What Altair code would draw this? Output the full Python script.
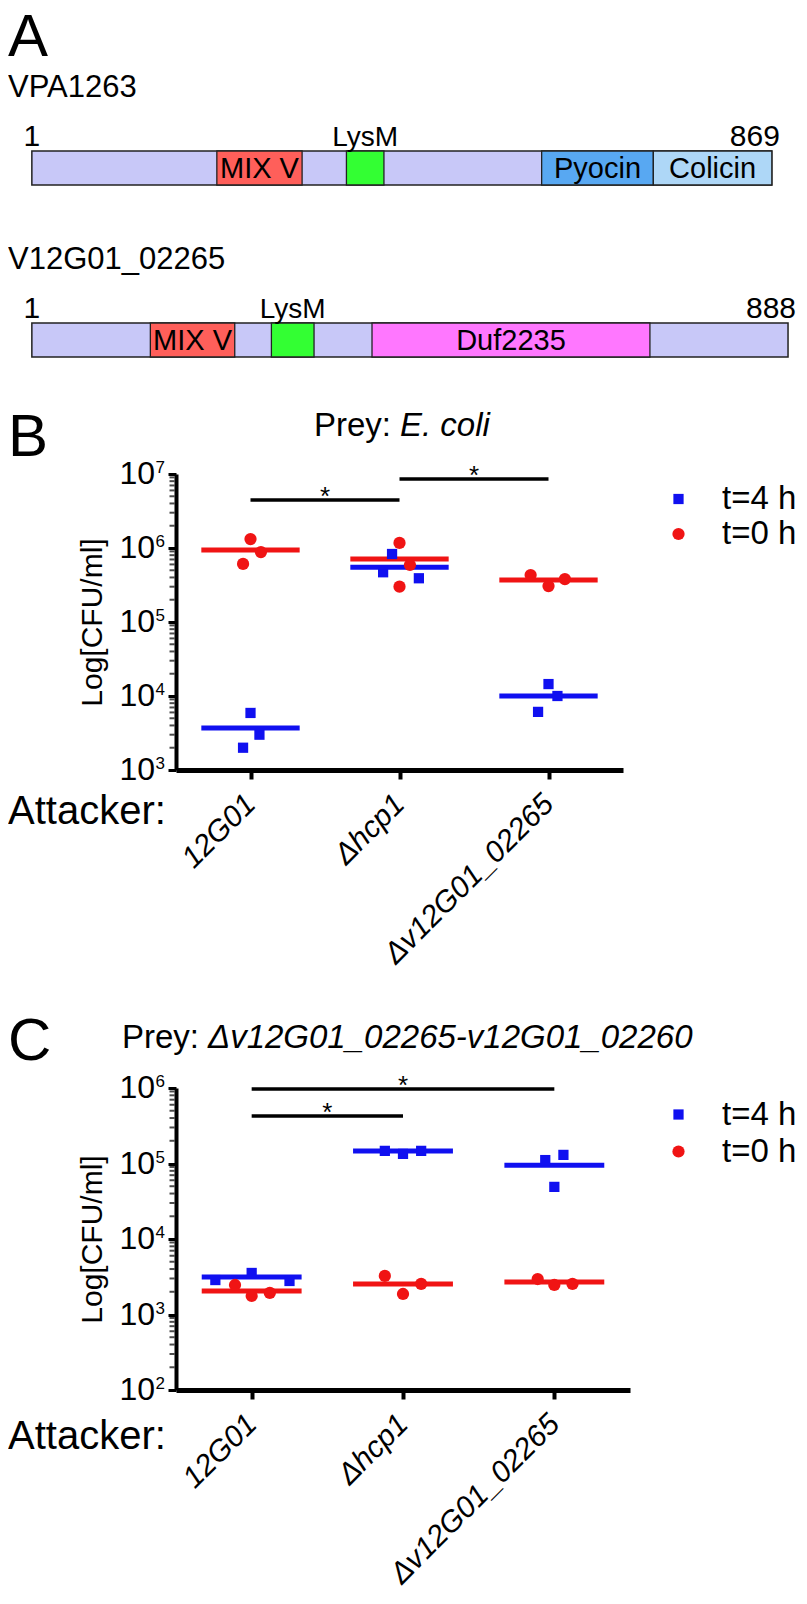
import json
import altair as alt
import pandas as pd

FONT = "Liberation Sans"

# ---------------- Panel A: domain architecture ----------------
proteins = ["VPA1263", "V12G01_02265"]
protein_len = [869, 888]
dom_protein = ["VPA1263", "VPA1263", "VPA1263", "VPA1263",
               "V12G01_02265", "V12G01_02265", "V12G01_02265"]
dom_name = ["MIX V", "LysM", "Pyocin", "Colicin", "MIX V", "LysM", "Duf2235"]
dom_start = [218, 370, 599, 730, 140, 282, 400]
dom_end = [318, 414, 730, 869, 239, 332, 726]
dom_palette_names = ["MIX V", "LysM", "Pyocin", "Colicin", "Duf2235"]
dom_palette_colors = ["#FF5F5A", "#33FF33", "#58A8F2", "#AED7F7", "#FF77FF"]

# ---------------- Panels B / C: competition assays ----------------
attackers = ["12G01", "Δhcp1", "Δv12G01_02265"]
series_names = ["t=4 h", "t=0 h"]
series_colors = ["#1010F0", "#F01414"]
point_group = [1, 1, 1, 2, 2, 2, 3, 3, 3]

# B: prey E. coli
b_t4_jitter = [0.0, 0.06, -0.05, -0.05, -0.11, 0.13, 0.0, 0.06, -0.07]
b_t4_cfu = [5.9e3, 3.0e3, 2.0e3, 8.3e5, 4.7e5, 3.9e5, 1.45e4, 1.0e4, 6.1e3]
b_t0_jitter = [0.0, 0.07, -0.05, 0.0, 0.07, 0.0, -0.12, 0.0, 0.11]
b_t0_cfu = [1.32e6, 8.8e5, 6.1e5, 1.17e6, 5.9e5, 3.0e5, 4.3e5, 3.06e5, 3.8e5]
b_t4_mean = [3.7e3, 5.5e5, 1.0e4]
b_t0_mean = [9.4e5, 7.1e5, 3.7e5]
b_sig_from = [1, 2]
b_sig_to = [2, 3]
b_sig_level = [4.45e6, 8.55e6]
b_exps = [3, 4, 5, 6, 7]

# C: prey dv12G01_02265-v12G01_02260
c_t4_jitter = [-0.24, 0.0, 0.25, -0.12, 0.0, 0.12, -0.06, 0.06, 0.0]
c_t4_cfu = [2.86e3, 3.55e3, 2.78e3, 1.47e5, 1.34e5, 1.47e5, 1.11e5, 1.30e5, 4.9e4]
c_t0_jitter = [-0.11, 0.0, 0.12, -0.12, 0.0, 0.12, -0.11, 0.0, 0.12]
c_t0_cfu = [2.46e3, 1.76e3, 1.93e3, 3.24e3, 1.87e3, 2.54e3, 2.95e3, 2.46e3, 2.54e3]
c_t4_mean = [3.14e3, 1.46e5, 9.5e4]
c_t0_mean = [2.05e3, 2.54e3, 2.69e3]
c_sig_from = [1, 1]
c_sig_to = [3, 2]
c_sig_level = [9.7e5, 4.26e5]
c_exps = [2, 3, 4, 5, 6]


def fixed_text(text, x, y, size, style="normal", align="left", baseline="alphabetic"):
    return alt.Chart(pd.DataFrame({"t": [text]})).mark_text(
        font=FONT, fontSize=size, fontStyle=style, align=align,
        baseline=baseline, color="black"
    ).encode(x=alt.value(x), y=alt.value(y), text="t:N")


# ---------------- build panel A ----------------
# plot origin sits at the same x as panels B/C; residue 0 lies 145 px left of it
rows_df = pd.DataFrame({"protein": proteins, "start": [1, 1], "end": protein_len})
dom_df = pd.DataFrame({"protein": dom_protein, "name": dom_name,
                       "start": dom_start, "end": dom_end})
dom_df["mid"] = (dom_df["start"] + dom_df["end"]) / 2

xa = alt.Scale(domain=[0, 895], range=[-145, 618], nice=False, zero=False)
ya = alt.Scale(domain=proteins, paddingInner=0.8023, paddingOuter=0)
XA = alt.X("start:Q", scale=xa, axis=None)
YA = alt.Y("protein:N", scale=ya, axis=None)

a_base = alt.Chart(rows_df).mark_rect(fill="#C8C8F8", stroke="#222222", strokeWidth=1.5).encode(
    x=XA, x2="end:Q", y=YA)
a_dom = alt.Chart(dom_df).mark_rect(stroke="#222222", strokeWidth=1.3).encode(
    x=XA, x2="end:Q", y=YA,
    color=alt.Color("name:N", scale=alt.Scale(domain=dom_palette_names, range=dom_palette_colors),
                    legend=None))
a_inbox = alt.Chart(dom_df).transform_filter("datum.name != 'LysM'").mark_text(
    font=FONT, fontSize=29, baseline="middle", dy=1, color="black").encode(
    x=alt.X("mid:Q", scale=xa, axis=None), y=YA, text="name:N")
a_lysm = alt.Chart(dom_df).transform_filter("datum.name == 'LysM'").mark_text(
    font=FONT, fontSize=28, baseline="alphabetic", dy=-22, color="black").encode(
    x=alt.X("mid:Q", scale=xa, axis=None), y=YA, text="name:N")
a_one = alt.Chart(rows_df).transform_calculate(lab="'1'").mark_text(
    font=FONT, fontSize=30, baseline="alphabetic", dy=-22, color="black").encode(
    x=XA, y=YA, text="lab:N")
a_len = alt.Chart(rows_df).mark_text(
    font=FONT, fontSize=30, align="right", baseline="alphabetic", dx=8, dy=-22, color="black").encode(
    x=alt.X("end:Q", scale=xa, axis=None), y=YA, text="end:N")
a_names = alt.Chart(rows_df).mark_text(
    font=FONT, fontSize=31, align="left", baseline="alphabetic", dy=-71, color="black").encode(
    x=alt.value(-168), y=YA, text="protein:N")
a_letter = fixed_text("A", -168, -95, 60)

panelA = alt.layer(a_base, a_dom, a_inbox, a_lysm, a_one, a_len, a_names, a_letter).properties(
    width=618, height=206)


# ---------------- build panels B / C ----------------
def cfu_panel(letter, prey_italic, split_x, t4_j, t4_v, t0_j, t0_v, t4_m, t0_m,
              sig_a, sig_b, sig_y, exps, width, height, letter_y, title_y,
              attacker_y, legend_x, legend_y, legend_row_pad):
    xs = alt.Scale(domain=[0.5, 3.5], nice=False, zero=False)
    ys = alt.Scale(type="log", domain=[10.0 ** exps[0], 10.0 ** exps[-1]], nice=False)
    cs = alt.Scale(domain=series_names, range=series_colors)
    ss = alt.Scale(domain=series_names, range=["square", "circle"])
    zs = alt.Scale(domain=series_names, range=[105, 150])

    label_expr = "%s[datum.value - 1]" % json.dumps(attackers, ensure_ascii=False)
    x_axis = alt.Axis(values=[1, 2, 3], labelExpr=label_expr, labelAngle=315, labelAlign="right",
                      labelBaseline="middle", labelFont=FONT, labelFontSize=30,
                      labelFontStyle="italic", labelColor="black", labelPadding=20,
                      labelFlush=False, labelOverlap=False, labelBound=False, labelLimit=500,
                      tickSize=9, tickWidth=4, tickColor="black",
                      domainWidth=5, domainColor="black", title=None, grid=False)
    y_axis = alt.Axis(values=[10.0 ** e for e in exps], labels=False, tickSize=8, tickWidth=3,
                      tickColor="black", domainWidth=4, domainColor="black", grid=False,
                      title="Log[CFU/ml]", titleFont=FONT, titleFontSize=30,
                      titleFontWeight="normal", titleColor="black", titlePadding=59)

    def X(f):
        return alt.X(f, scale=xs, axis=x_axis)

    def Y(f):
        return alt.Y(f, scale=ys, axis=y_axis)

    pts = pd.DataFrame({
        "x": [g + j for g, j in zip(point_group, t4_j)] + [g + j for g, j in zip(point_group, t0_j)],
        "cfu": t4_v + t0_v,
        "series": [series_names[0]] * 9 + [series_names[1]] * 9,
    })
    sig = pd.DataFrame({"a": sig_a, "b": sig_b, "y": sig_y, "star": ["*"] * len(sig_a)})
    sig["mid"] = (sig["a"] + sig["b"]) / 2

    minor_vals = [m * 10.0 ** e for e in exps[:-1] for m in range(2, 10)]
    minor = alt.Chart(pd.DataFrame({"cfu": minor_vals})).mark_tick(
        orient="horizontal", size=5, thickness=2, color="black").encode(
        y=Y("cfu:Q"), x=alt.value(-4))

    def mean_layer(vals, color):
        df = pd.DataFrame({"g": [1, 2, 3], "cfu": vals})
        return alt.Chart(df).transform_calculate(
            x1="datum.g - 0.33", x2="datum.g + 0.33").mark_rule(
            strokeWidth=5, color=color).encode(x=X("x1:Q"), x2="x2:Q", y=Y("cfu:Q"))

    leg = alt.Legend(orient="none", legendX=legend_x, legendY=legend_y, title=None, padding=0,
                     direction="vertical", labelFont=FONT, labelFontSize=33, labelColor="black",
                     labelOffset=27, symbolSize=115, symbolStrokeWidth=0, symbolOpacity=1,
                     rowPadding=legend_row_pad)
    points = alt.Chart(pts).mark_point(filled=True, opacity=1).encode(
        x=X("x:Q"), y=Y("cfu:Q"),
        color=alt.Color("series:N", scale=cs, legend=leg),
        shape=alt.Shape("series:N", scale=ss, legend=leg),
        size=alt.Size("series:N", scale=zs, legend=None))

    sig_rules = alt.Chart(sig).mark_rule(strokeWidth=3.5, color="black").encode(
        x=X("a:Q"), x2="b:Q", y=Y("y:Q"))
    stars = alt.Chart(sig).mark_text(font=FONT, fontSize=26, baseline="alphabetic", dy=5,
                                     color="black").encode(
        x=X("mid:Q"), y=Y("y:Q"), text="star:N")

    tick_df = pd.DataFrame({"cfu": [10.0 ** e for e in exps], "base": ["10"] * len(exps),
                            "exp": [str(e) for e in exps]})
    tick_base = alt.Chart(tick_df).mark_text(font=FONT, fontSize=32, align="right",
                                             baseline="alphabetic", dy=10, color="black").encode(
        y=Y("cfu:Q"), x=alt.value(-21), text="base:N")
    tick_exp = alt.Chart(tick_df).mark_text(font=FONT, fontSize=17, align="right",
                                            baseline="alphabetic", dy=-1, color="black").encode(
        y=Y("cfu:Q"), x=alt.value(-11), text="exp:N")

    layers = [minor, mean_layer(t4_m, series_colors[0]), mean_layer(t0_m, series_colors[1]),
              points, sig_rules, stars, tick_base, tick_exp,
              fixed_text(letter, -168, letter_y, 60),
              fixed_text("Prey:", split_x - 9, title_y, 33, align="right"),
              fixed_text(prey_italic, split_x, title_y, 33, style="italic"),
              fixed_text("Attacker:", -168, attacker_y, 40)]
    return alt.layer(*layers).properties(width=width, height=height)


panelB = cfu_panel("B", "E. coli", 224, b_t4_jitter, b_t4_cfu, b_t0_jitter, b_t0_cfu,
                   b_t4_mean, b_t0_mean, b_sig_from, b_sig_to, b_sig_level, b_exps,
                   447, 296, -18, -38, 350, 486, 8.5, 1)
panelC = cfu_panel("C", "Δv12G01_02265-v12G01_02260", 32, c_t4_jitter, c_t4_cfu, c_t0_jitter,
                   c_t0_cfu, c_t4_mean, c_t0_mean, c_sig_from, c_sig_to, c_sig_level, c_exps,
                   454, 302, -28, -40, 361, 486, 10, 3)

indep = dict(color="independent", shape="independent", size="independent")
top = alt.vconcat(panelA, panelB, spacing=50).resolve_scale(**indep).resolve_legend(**indep)
chart = alt.vconcat(top, panelC, spacing=43).resolve_scale(**indep).resolve_legend(
    **indep).properties(padding=0).configure(font=FONT).configure_view(stroke=None)

chart.save("out.html", embed_options={"renderer": "svg", "actions": False})
